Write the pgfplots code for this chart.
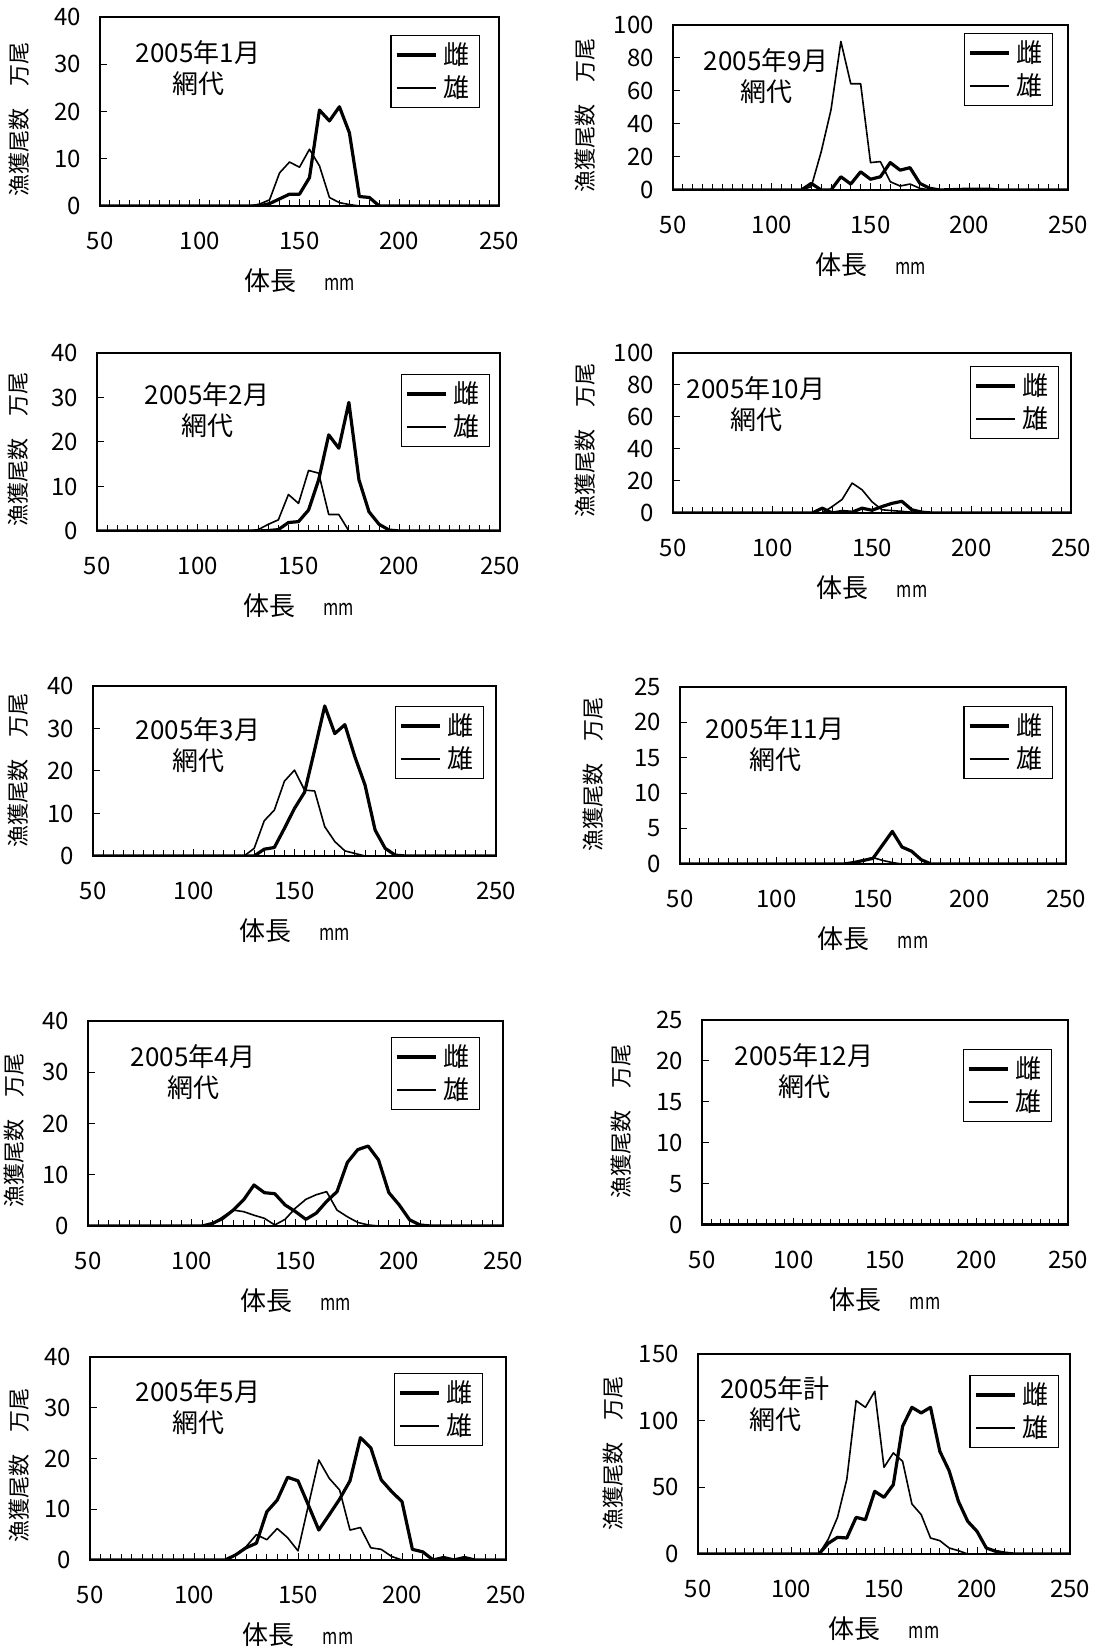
\documentclass[border=0pt]{standalone}
\usepackage{fontspec}
\setmainfont{Noto Sans CJK JP}
\usepackage{graphicx}
\usepackage{pgfplots}
\pgfplotsset{compat=1.18}
\pgfplotsset{
 panel/.style={
  scale only axis, anchor=south west,
  xmin=50, xmax=250, ymin=0,
  xtick={50,100,150,200,250},
  minor xtick={55,60,...,245},
  tick pos=left,
  tick align=inside,
  major tick length=3.5pt, minor tick length=3pt,
  tick style={black, line width=0.5pt},
  axis line style={line width=1.1pt},
  tick label style={font=\fontsize{12}{14}\selectfont},
  /pgf/number format/assume math mode=true,
  xticklabel style={yshift=-9.5pt},
  yticklabel style={xshift=-6pt},
  legend image code/.code={\draw[##1] (0pt,0pt) -- (19.5pt,0pt);},
  legend cell align=left,
  legend style={draw=black, line width=0.6pt, font=\fontsize{13}{13}\selectfont, anchor=north east, inner xsep=2pt, inner ysep=1.5pt, row sep=0pt, nodes={inner xsep=3pt, inner ysep=2pt}},
 },
 fem/.style={black, line width=1.6pt, line join=round},
 mal/.style={black, line width=0.8pt, line join=round},
}
\tikzset{ttl/.style={align=center, font=\fontsize{13}{15.5}\selectfont}}
\newcommand{\xl}{{\fontsize{13}{13}\selectfont 体長\hspace{14pt}\scalebox{0.75}[1]{\fontsize{11}{11}\selectfont mm}}}
\newcommand{\yl}{{\fontsize{11}{11}\selectfont 漁獲尾数　万尾}}
\begin{document}
\begin{tikzpicture}
\path[use as bounding box] (0,0) rectangle (548pt,826pt);
% ---------- Jan
\begin{axis}[panel, at={(50pt,723pt)}, width=199.5pt, height=94.5pt, ymax=40, ytick={0,10,...,40}, legend style={at={(rel axis cs:0.952,0.905)}}]
\addplot[fem] coordinates {(50,0)(125,0)(130,0)(135,0.5)(140,1.5)(145,2.5)(150,2.5)(155,6)(160,20.3)(165,18)(170,21)(175,15.5)(180,2)(185,1.8)(190,0)(250,0)};
\addplot[mal] coordinates {(50,0)(125,0)(130,0.4)(135,1.3)(140,7)(145,9.3)(150,8.2)(155,12)(160,8.5)(165,1.8)(170,0.7)(175,0.3)(180,0)(250,0)};
\legend{雌,雄}
\end{axis}
% ---------- Feb
\begin{axis}[panel, at={(48.5pt,560.5pt)}, width=201.5pt, height=89pt, ymax=40, ytick={0,10,...,40}, legend style={at={(rel axis cs:0.975,0.882)}}]
\addplot[fem] coordinates {(50,0)(125,0)(130,0)(135,0.1)(140,0.3)(145,1.9)(150,2.1)(155,4.7)(160,11.5)(165,21.6)(170,18.6)(175,28.9)(180,11.5)(185,4.3)(190,1.5)(195,0.2)(200,0)(250,0)};
\addplot[mal] coordinates {(50,0)(125,0)(130,0.3)(135,1.5)(140,2.5)(145,8.2)(150,6.2)(155,13.6)(160,13)(165,3.7)(170,3.7)(175,0)(250,0)};
\legend{雌,雄}
\end{axis}
% ---------- Mar
\begin{axis}[panel, at={(46.5pt,398pt)}, width=201.5pt, height=85pt, ymax=40, ytick={0,10,...,40}, legend style={at={(rel axis cs:0.970,0.882)}}]
\addplot[fem] coordinates {(50,0)(125,0)(130,0)(135,1.6)(140,2)(145,6.5)(150,11.2)(155,15)(160,25)(165,35.3)(170,28.8)(175,30.9)(180,23.3)(185,16.7)(190,6.1)(195,1.8)(200,0.2)(205,0)(250,0)};
\addplot[mal] coordinates {(50,0)(125,0)(130,1.8)(135,8.3)(140,10.8)(145,17.6)(150,20.2)(155,15.5)(160,15.3)(165,6.9)(170,3.4)(175,1.2)(180,0.6)(185,0)(250,0)};
\legend{雌,雄}
\end{axis}
% ---------- Apr
\begin{axis}[panel, at={(44pt,213pt)}, width=207.5pt, height=102.5pt, ymax=40, ytick={0,10,...,40}, legend style={at={(rel axis cs:0.945,0.922)}}]
\addplot[fem] coordinates {(50,0)(105,0)(110,0.5)(115,1.5)(120,3.1)(125,5.1)(130,8)(135,6.5)(140,6.3)(145,4.1)(150,2.8)(155,1.3)(160,2.5)(165,4.8)(170,6.7)(175,12.4)(180,14.9)(185,15.6)(190,12.9)(195,6.5)(200,4.1)(205,1.2)(210,0.2)(215,0)(250,0)};
\addplot[mal] coordinates {(50,0)(105,0)(110,0.3)(115,1.8)(120,3.1)(125,2.8)(130,2.1)(135,1.5)(140,0.2)(145,1.3)(150,3.5)(155,5.2)(160,6.1)(165,6.7)(170,3.1)(175,1.8)(180,0.7)(185,0.2)(190,0)(250,0)};
\legend{雌,雄}
\end{axis}
% ---------- May
\begin{axis}[panel, at={(45pt,46pt)}, width=208pt, height=101.5pt, ymax=40, ytick={0,10,...,40}, legend style={at={(rel axis cs:0.945,0.921)}}]
\addplot[fem] coordinates {(50,0)(115,0)(120,1)(125,2.4)(130,3.3)(135,9.5)(140,11.8)(145,16.3)(150,15.6)(155,10.8)(160,5.9)(165,8.9)(170,12)(175,15.6)(180,24.1)(185,22.1)(190,15.8)(195,13.5)(200,11.5)(205,2.1)(210,1.6)(215,0)(220,0.5)(225,0)(230,0.5)(235,0)(250,0)};
\addplot[mal] coordinates {(50,0)(115,0)(120,1)(125,2.6)(130,5)(135,4)(140,6.2)(145,4.4)(150,1.8)(155,10.8)(160,19.7)(165,16.1)(170,13.8)(175,5.9)(180,6.4)(185,2.4)(190,2.1)(195,0.7)(200,0)(250,0)};
\legend{雌,雄}
\end{axis}
% ---------- Sep
\begin{axis}[panel, at={(336.5pt,731pt)}, width=197.5pt, height=82.5pt, ymax=100, ytick={0,20,...,100}, legend style={at={(rel axis cs:0.962,0.952)}}]
\addplot[fem] coordinates {(50,0)(115,0)(120,4)(125,0)(130,0)(135,8)(140,3.6)(145,11)(150,6.5)(155,8)(160,16.6)(165,12)(170,13.5)(175,4)(180,1)(185,0)(200,0.5)(210,0.5)(215,0)(250,0)};
\addplot[mal] coordinates {(50,0)(115,0)(120,2)(125,23)(130,48.6)(135,90)(140,64.4)(145,64.4)(150,16.6)(155,17.2)(160,5)(165,2.4)(170,3.6)(175,1)(180,0)(250,0)};
\legend{雌,雄}
\end{axis}
% ---------- Oct
\begin{axis}[panel, at={(336.5pt,569.5pt)}, width=199pt, height=80pt, ymax=100, ytick={0,20,...,100}, legend style={at={(rel axis cs:0.970,0.919)}}]
\addplot[fem] coordinates {(50,0)(120,0)(125,3)(130,0)(135,1)(140,0.5)(145,3)(150,1.7)(155,4)(160,6)(165,7.3)(170,2)(175,0.5)(180,0)(250,0)};
\addplot[mal] coordinates {(50,0)(125,0)(130,4)(135,8.5)(140,18.7)(145,14.5)(150,7)(155,2)(160,1.5)(165,1)(170,0.5)(175,0)(250,0)};
\legend{雌,雄}
\end{axis}
% ---------- Nov
\begin{axis}[panel, at={(340pt,394pt)}, width=193pt, height=88.5pt, ymax=25, ytick={0,5,...,25}, legend style={at={(rel axis cs:0.966,0.893)}}]
\addplot[fem] coordinates {(50,0)(135,0)(140,0.2)(145,0.5)(150,0.8)(155,2.7)(160,4.6)(165,2.4)(170,1.8)(175,0.6)(180,0)(250,0)};
\addplot[mal] coordinates {(50,0)(135,0)(140,0.2)(145,0.5)(150,0.9)(155,0.5)(160,0.2)(165,0)(250,0)};
\legend{雌,雄}
\end{axis}
% ---------- Dec
\begin{axis}[panel, at={(351pt,213.5pt)}, width=183pt, height=102.5pt, ymax=25, ytick={0,5,...,25}, legend style={at={(rel axis cs:0.956,0.859)}}]
\addplot[fem] coordinates {(50,0)(250,0)};
\addplot[mal] coordinates {(50,0)(250,0)};
\legend{雌,雄}
\end{axis}
% ---------- Total
\begin{axis}[panel, at={(349pt,49pt)}, width=186pt, height=100pt, ymax=150, ytick={0,50,...,150}, legend style={at={(rel axis cs:0.970,0.895)}}]
\addplot[fem] coordinates {(50,0)(115,0)(120,8)(125,12.5)(130,12)(135,27.5)(140,25.7)(145,47)(150,42.5)(155,52)(160,95.8)(165,110)(170,105.8)(175,110)(180,77)(185,62.5)(190,39.5)(195,24.5)(200,17)(205,4.5)(210,2)(215,0.7)(220,0)(250,0)};
\addplot[mal] coordinates {(50,0)(115,0)(120,11)(125,27.5)(130,56)(135,115)(140,110)(145,122)(150,65)(155,75.8)(160,69.5)(165,37.5)(170,29.5)(175,12)(180,10)(185,4.5)(190,2.5)(195,0)(250,0)};
\legend{雌,雄}
\end{axis}
% ---------- titles
\node[ttl] at (99pt,791.75pt) {2005年1月\\網代};
\node[ttl] at (103.5pt,621pt) {2005年2月\\網代};
\node[ttl] at (99pt,453.5pt) {2005年3月\\網代};
\node[ttl] at (96.5pt,290pt) {2005年4月\\網代};
\node[ttl] at (99pt,122.5pt) {2005年5月\\網代};
\node[ttl] at (383pt,788pt) {2005年9月\\網代};
\node[ttl] at (378pt,624pt) {2005年10月\\網代};
\node[ttl] at (387.5pt,454pt) {2005年11月\\網代};
\node[ttl] at (402pt,290.5pt) {2005年12月\\網代};
\node[ttl] at (387.5pt,124pt) {2005年計\\網代};
% ---------- x labels
\node at (149.75pt,685.5pt) {\xl};
\node at (149.25pt,523pt) {\xl};
\node at (147.25pt,360.5pt) {\xl};
\node at (147.75pt,175.5pt) {\xl};
\node at (149pt,8.5pt) {\xl};
\node at (435.25pt,693.5pt) {\xl};
\node at (436pt,532pt) {\xl};
\node at (436.5pt,356.5pt) {\xl};
\node at (442.5pt,176pt) {\xl};
\node at (442pt,11.5pt) {\xl};
% ---------- y labels
\node[rotate=90] at (9.5pt,766pt) {\yl};
\node[rotate=90] at (9pt,601pt) {\yl};
\node[rotate=90] at (9pt,440.5pt) {\yl};
\node[rotate=90] at (7pt,260.5pt) {\yl};
\node[rotate=90] at (9.5pt,93pt) {\yl};
\node[rotate=90] at (292.5pt,768pt) {\yl};
\node[rotate=90] at (292.5pt,605.5pt) {\yl};
\node[rotate=90] at (296.5pt,438.5pt) {\yl};
\node[rotate=90] at (310.5pt,265pt) {\yl};
\node[rotate=90] at (306.5pt,99pt) {\yl};
\end{tikzpicture}
\end{document}
